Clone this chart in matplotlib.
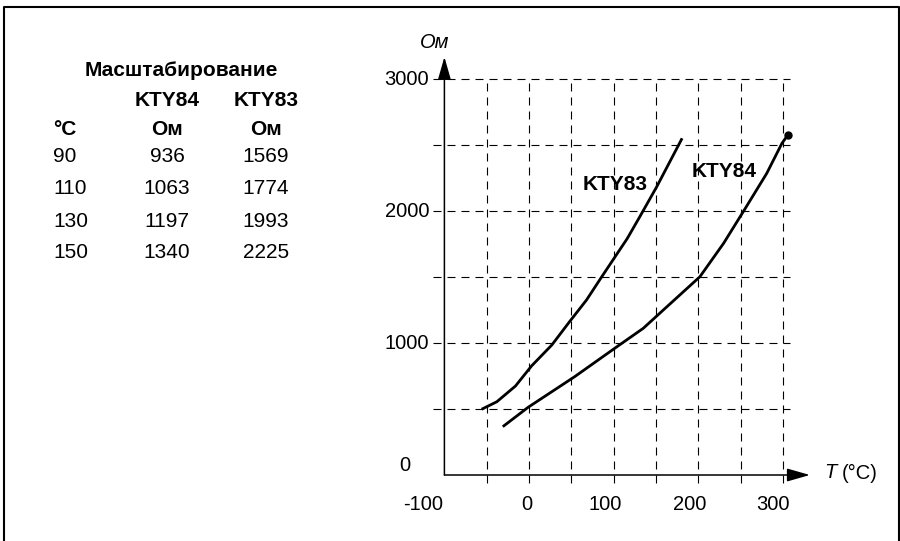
import matplotlib.pyplot as plt
from matplotlib.lines import Line2D

# curves (deg C, Ohm)
temps_83 = [-56, -38, -16, 3, 27, 48, 68, 86, 116, 131, 151, 181]
ohms_83 = [498, 555, 674, 826, 985, 1162, 1326, 1502, 1790, 1957, 2184, 2551]
temps_84 = [-31, -1, 54, 104, 135, 161, 202, 230, 255, 281, 299, 306]
ohms_84 = [366, 513, 745, 972, 1111, 1263, 1502, 1755, 2013, 2285, 2513, 2576]

# scaling table
table_title = "Масштабирование"
table_temps = [90, 110, 130, 150]
table_84 = [936, 1063, 1197, 1340]
table_83 = [1569, 1774, 1993, 2225]

grid_t = [-50, 0, 50, 100, 150, 200, 250, 300]
grid_r = [500, 1000, 1500, 2000, 2500, 3000]
xticks = [-100, 0, 100, 200, 300]
yticks = [0, 1000, 2000, 3000]

plt.rcParams['font.family'] = ['Liberation Sans', 'DejaVu Sans']
FS = 15
TFS = 14.5
W, H = 900, 541

fig = plt.figure(figsize=(9, 5.41), dpi=100)

# pixel mapping of the data area
X0, XS = 529, 0.846
Y0, YS = 475, 0.132
xlim = (-120, 340)
ylim = (-150, 3250)
l = X0 + XS * xlim[0]
r = X0 + XS * xlim[1]
b = Y0 - YS * ylim[0]
t = Y0 - YS * ylim[1]
ax = fig.add_axes([l / W, 1 - b / H, (r - l) / W, (b - t) / H])
ax.set_xlim(*xlim)
ax.set_ylim(*ylim)
ax.axis('off')

dash = (0, (7.2, 5.4))
ax.vlines(grid_t, -60, 3000, colors='black', lw=0.8, linestyles=[dash])
ax.hlines(grid_r, -113, 308, colors='black', lw=0.8, linestyles=[dash])

arrow = dict(arrowstyle='-|>,head_length=1.4,head_width=0.4', lw=1.1,
             color='black', shrinkA=0, shrinkB=0, mutation_scale=10)
ax.annotate('', xy=(-100, 3167), xytext=(-100, 0), arrowprops=arrow)
ax.annotate('', xy=(332, 0), xytext=(-100, 0), arrowprops=arrow)

ax.plot(temps_83, ohms_83, color='black', lw=2, solid_capstyle='butt')
ax.plot(temps_84, ohms_84, color='black', lw=2, solid_capstyle='butt')
ax.plot(temps_84[-1], ohms_84[-1], 'o', color='black', ms=5)

ax.text(102, 2197, 'KTY83', fontsize=FS, fontweight='bold', ha='center', va='center')
ax.text(231, 2303, 'KTY84', fontsize=FS, fontweight='bold', ha='center', va='center')

# tick labels (no tick marks in the original)
x_nudge = [-21, -2, -8, -9, -10]
for v, dx in zip(xticks, x_nudge):
    ax.annotate(str(v), xy=(v, 0), xytext=(dx * 0.72, -21), textcoords='offset points',
                fontsize=TFS, ha='center', va='center')
for v in yticks:
    if v == 0:
        ax.annotate('0', xy=(-100, 0), xytext=(-34 * 0.72, 7), textcoords='offset points',
                    fontsize=TFS, ha='right', va='center')
    else:
        ax.annotate(str(v), xy=(-100, v), xytext=(-11, 0), textcoords='offset points',
                    fontsize=TFS, ha='right', va='center')

fig.text(435 / W, 1 - 43 / H, 'Ом', fontsize=TFS, style='italic', ha='center', va='center')
fig.text(824 / W, 1 - 473 / H, 'T', fontsize=TFS, style='italic', ha='left', va='center')
fig.text(842 / W, 1 - 473 / H, '(°C)', fontsize=TFS, ha='left', va='center')

# table on the left
fig.text(181 / W, 1 - 71 / H, table_title, fontsize=FS, fontweight='bold', ha='center', va='center')
fig.text(167 / W, 1 - 100 / H, 'KTY84', fontsize=FS, fontweight='bold', ha='center', va='center')
fig.text(266 / W, 1 - 100 / H, 'KTY83', fontsize=FS, fontweight='bold', ha='center', va='center')
fig.text(53 / W, 1 - 130 / H, '°C', fontsize=FS, fontweight='bold', ha='left', va='center')
fig.text(167 / W, 1 - 130 / H, 'Ом', fontsize=FS, fontweight='bold', ha='center', va='center')
fig.text(266 / W, 1 - 130 / H, 'Ом', fontsize=FS, fontweight='bold', ha='center', va='center')
for i, (tc, r84, r83) in enumerate(zip(table_temps, table_84, table_83)):
    y = 1 - (157 + 32 * i) / H
    fig.text(53 / W, y, str(tc), fontsize=FS, ha='left', va='center')
    fig.text(167 / W, y, str(r84), fontsize=FS, ha='center', va='center')
    fig.text(266 / W, y, str(r83), fontsize=FS, ha='center', va='center')

# frame, open at the bottom
fig.add_artist(Line2D([4 / W, 4 / W, 898.5 / W, 898.5 / W], [0, 1 - 7 / H, 1 - 7 / H, 0],
                      color='black', lw=1.5))

fig.savefig('out.png', dpi=100)
